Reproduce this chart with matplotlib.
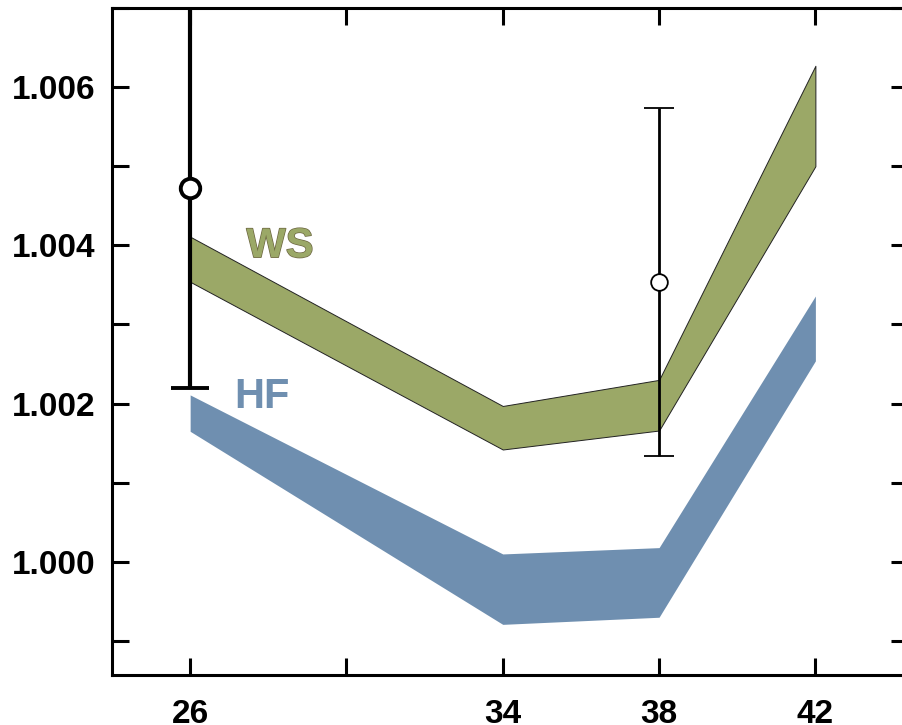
import matplotlib.pyplot as plt
import matplotlib.patheffects as pe
from matplotlib.ticker import MultipleLocator

plt.rcParams['font.family'] = ['Liberation Sans', 'DejaVu Sans']

x = [26, 34, 38, 42]

# WS band (lower / upper edge)
ws_lo = [1.00354, 1.00142, 1.00166, 1.00500]
ws_hi = [1.00411, 1.00197, 1.00230, 1.00627]

# HF band (lower / upper edge)
hf_lo = [1.00165, 0.99921, 0.99930, 1.00254]
hf_hi = [1.00211, 1.00010, 1.00018, 1.00336]

# measured points with uncertainties
pt_x = [26, 38]
pt_y = [1.00472, 1.00354]
pt_err = [0.00252, 0.00220]

fig = plt.figure(figsize=(9.03, 7.25), dpi=100)
ax = fig.add_axes([112 / 903, 1 - 675 / 725, (908 - 112) / 903, (675 - 8) / 725])

green = '#9ba867'
blue = '#6f8fb0'

ax.fill_between(x, hf_lo, hf_hi, color=blue, lw=0, zorder=2)
ax.fill_between(x, ws_lo, ws_hi, facecolor=green, edgecolor='#222222', lw=0.7, zorder=2)

# thick bar at 26, thin bar at 38
ax.errorbar(pt_x[0], pt_y[0], yerr=pt_err[0], fmt='o', color='black', mfc='white',
            mec='black', ms=14, mew=2.8, elinewidth=3, capsize=14, capthick=3, zorder=4)
ax.errorbar(pt_x[1], pt_y[1], yerr=pt_err[1], fmt='o', color='black', mfc='white',
            mec='black', ms=12, mew=1.3, elinewidth=2, capsize=11, capthick=2, zorder=4)

ax.text(27.44, 1.00385, 'WS', color=green, fontsize=30, fontweight='bold',
        path_effects=[pe.withStroke(linewidth=1.0, foreground='#6b6440')], zorder=3)
ax.text(27.14, 1.00194, 'HF', color=blue, fontsize=30, fontweight='bold', zorder=3)

ax.set_xlim(24, 44.37)
ax.set_ylim(0.99857, 1.007)

ax.set_xticks([26, 30, 34, 38, 42])
ax.set_xticklabels(['26', '', '34', '38', '42'])
ax.set_yticks([1.000, 1.002, 1.004, 1.006])
ax.set_yticklabels(['1.000', '1.002', '1.004', '1.006'])
ax.yaxis.set_minor_locator(MultipleLocator(0.001))

for s in ax.spines.values():
    s.set_linewidth(2.2)

ax.tick_params(which='both', direction='in', top=True, right=True,
               length=12, width=2.2, labelsize=24, pad=12)
ax.tick_params(axis='x', pad=17)
for lbl in ax.get_xticklabels() + ax.get_yticklabels():
    lbl.set_fontweight('bold')

fig.savefig('out.png', dpi=100)
